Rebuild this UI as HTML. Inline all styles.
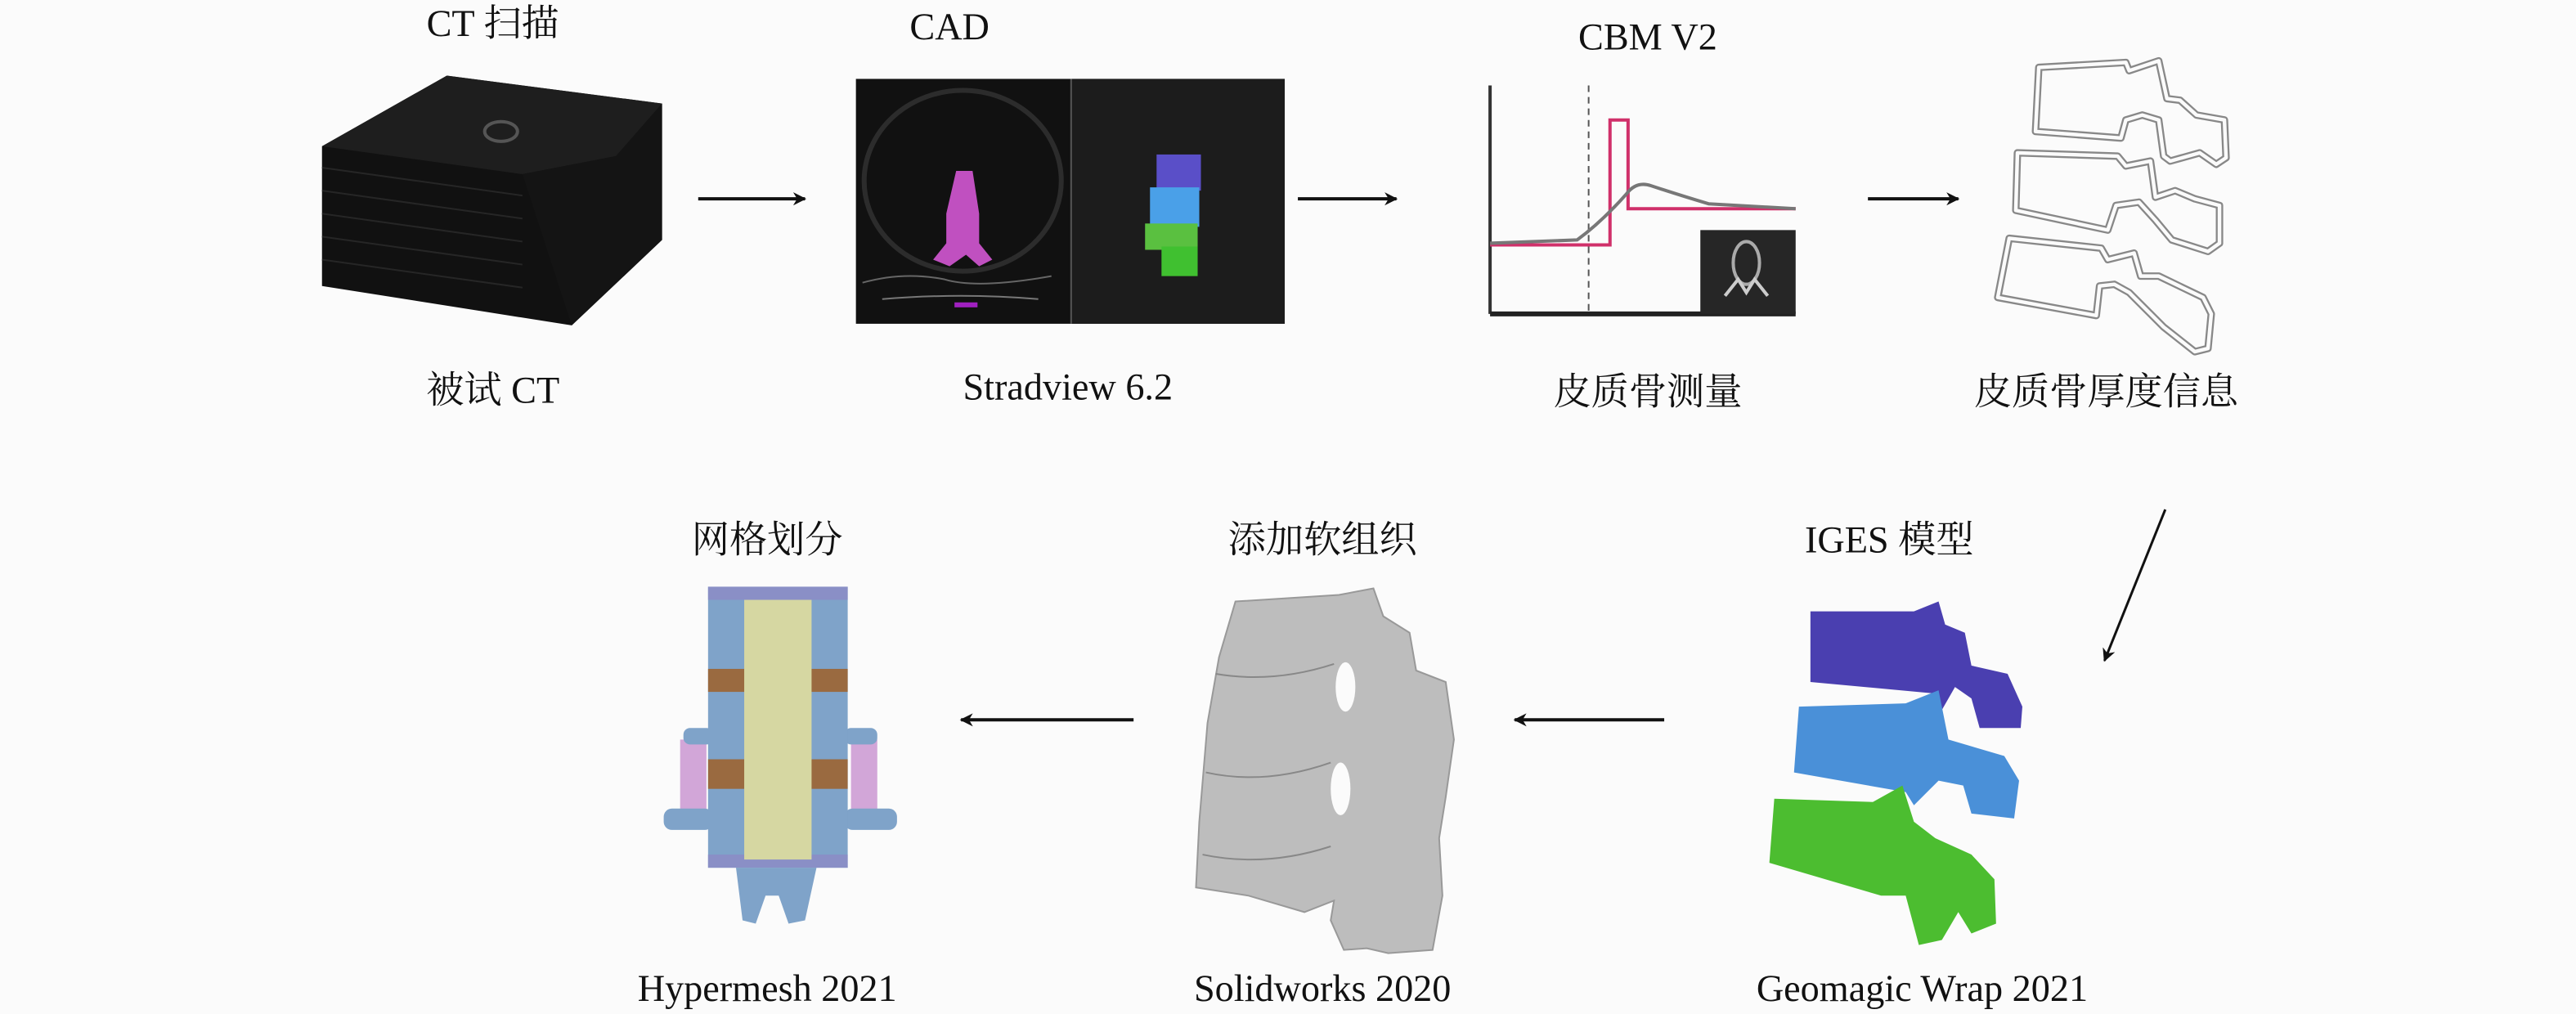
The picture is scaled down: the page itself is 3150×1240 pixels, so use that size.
<!DOCTYPE html>
<html><head><meta charset="utf-8"><style>
html,body{margin:0;padding:0;background:#fbfbfb;}
svg{display:block;}
text{font-family:"Liberation Serif","Noto Serif CJK SC",serif;font-size:23px;fill:#111;text-anchor:middle;}
</style></head><body>
<svg width="3150" height="1240" viewBox="0 0 1568 617" preserveAspectRatio="none" xmlns="http://www.w3.org/2000/svg">
<defs>
<marker id="ah" viewBox="0 0 10 10" refX="9" refY="5" markerWidth="8" markerHeight="8" orient="auto" markerUnits="userSpaceOnUse"><path d="M0,0 L10,5 L0,10 L3,5 z" fill="#111"/></marker>
</defs>
<rect width="1568" height="617" fill="#fbfbfb"/>

<!-- labels -->
<text x="300" y="22">CT 扫描</text>
<text x="300" y="245">被试 CT</text>
<text x="578" y="24">CAD</text>
<text x="650" y="243">Stradview 6.2</text>
<text x="1003" y="30">CBM V2</text>
<text x="1003" y="246">皮质骨测量</text>
<text x="1282" y="246">皮质骨厚度信息</text>
<text x="1150" y="336">IGES 模型</text>
<text x="1170" y="609">Geomagic Wrap 2021</text>
<text x="805" y="336">添加软组织</text>
<text x="805" y="609">Solidworks 2020</text>
<text x="467" y="336">网格划分</text>
<text x="467" y="609">Hypermesh 2021</text>

<!-- CT stack -->
<g>
<polygon points="272,46 403,63 403,146 348,198 196,174 196,89" fill="#111"/>
<polygon points="272,46 403,63 375,95 318,106 196,89" fill="#1e1e1e"/>
<polygon points="318,106 375,95 403,63 403,146 348,198" fill="#141414"/>
<g stroke="#262626" stroke-width="1">
<line x1="196" y1="102" x2="318" y2="119"/><line x1="196" y1="116" x2="318" y2="133"/>
<line x1="196" y1="130" x2="318" y2="147"/><line x1="196" y1="144" x2="318" y2="161"/>
<line x1="196" y1="158" x2="318" y2="175"/>
</g>
<ellipse cx="305" cy="80" rx="10" ry="6" fill="none" stroke="#555" stroke-width="2"/>
</g>

<!-- arrows -->
<line x1="425" y1="121" x2="490" y2="121" stroke="#111" stroke-width="2" marker-end="url(#ah)"/>
<line x1="790" y1="121" x2="850" y2="121" stroke="#111" stroke-width="2" marker-end="url(#ah)"/>
<line x1="1137" y1="121" x2="1192" y2="121" stroke="#111" stroke-width="2" marker-end="url(#ah)"/>
<line x1="1318" y1="310" x2="1281" y2="402" stroke="#111" stroke-width="1.5" marker-end="url(#ah)"/>
<line x1="1013" y1="438" x2="922" y2="438" stroke="#111" stroke-width="2" marker-end="url(#ah)"/>
<line x1="690" y1="438" x2="585" y2="438" stroke="#111" stroke-width="2" marker-end="url(#ah)"/>

<!-- CAD image -->
<rect x="521" y="48" width="261" height="149" fill="#111"/>
<rect x="652" y="48" width="130" height="149" fill="#1c1c1c"/>
<line x1="652" y1="48" x2="652" y2="197" stroke="#555" stroke-width="1"/>
<ellipse cx="586" cy="110" rx="60" ry="55" fill="none" stroke="#2c2c2c" stroke-width="3"/>
<path d="M525,172 Q550,165 575,170 Q595,176 640,168" stroke="#666" fill="none"/>
<path d="M537,182 Q585,178 632,182" stroke="#777" fill="none"/>
<rect x="581" y="184" width="14" height="3" fill="#a020c0"/>
<path d="M582,104 L592,104 L596,130 L596,148 L604,158 L596,162 L588,155 L578,162 L568,158 L576,148 L576,130 Z" fill="#c050c0"/>
<rect x="704" y="94" width="27" height="22" fill="#5a4fc8"/>
<rect x="700" y="114" width="30" height="24" fill="#4aa0e8"/>
<rect x="697" y="136" width="32" height="16" fill="#5ac040"/>
<rect x="707" y="150" width="22" height="18" fill="#40c030"/>

<!-- CBM chart -->
<line x1="907" y1="52" x2="907" y2="191" stroke="#333" stroke-width="2"/>
<line x1="907" y1="191" x2="1093" y2="191" stroke="#222" stroke-width="3"/>
<line x1="967" y1="52" x2="967" y2="191" stroke="#555" stroke-width="1" stroke-dasharray="4,3"/>
<path d="M907,149 L980,149 L980,73 L991,73 L991,127 L1093,127" fill="none" stroke="#d0306a" stroke-width="2"/>
<path d="M907,148 L960,146 Q975,135 990,118 Q996,110 1005,113 Q1020,118 1040,124 L1093,127" fill="none" stroke="#777" stroke-width="2"/>
<rect x="1035" y="140" width="58" height="51" fill="#262626"/>
<ellipse cx="1063" cy="160" rx="8" ry="13" fill="none" stroke="#aaa" stroke-width="2"/>
<path d="M1050,180 L1058,170 L1063,178 L1068,170 L1076,180" stroke="#ccc" fill="none" stroke-width="2"/>

<!-- bone outlines (double line) -->
<g fill="none" stroke-linejoin="round">
<g stroke="#888" stroke-width="4.5">
<path id="b1" d="M1241,41 L1294,38 L1296,43 L1314,37 L1319,60 L1327,61 L1337,70 L1354,73 L1355,96 L1349,100 L1339,93 L1321,98 L1317,95 L1314,73 L1304,70 L1294,73 L1291,84 L1239,80 Z"/>
<path id="b2" d="M1228,93 L1289,95 L1294,101 L1309,98 L1312,120 L1324,116 L1336,121 L1351,125 L1351,148 L1344,153 L1322,146 L1312,134 L1302,123 L1288,125 L1283,140 L1227,128 Z"/>
<path id="b3" d="M1223,145 L1279,151 L1283,158 L1299,154 L1303,168 L1314,168 L1341,181 L1346,191 L1344,212 L1336,214 L1317,199 L1309,191 L1296,178 L1287,173 L1278,174 L1276,192 L1216,181 Z"/>
</g>
<g stroke="#fbfbfb" stroke-width="2.2">
<use href="#b1"/><use href="#b2"/><use href="#b3"/>
</g>
</g>

<!-- colorful vertebrae (IGES) -->
<path d="M1102,372 L1165,372 L1180,366 L1184,380 L1196,385 L1200,405 L1222,410 L1231,430 L1230,443 L1205,443 L1200,425 L1190,418 L1182,432 L1178,422 L1102,415 Z" fill="#4a3fb0"/>
<path d="M1095,430 L1160,428 L1180,420 L1186,450 L1220,460 L1229,475 L1226,498 L1200,495 L1195,478 L1180,475 L1165,490 L1160,482 L1092,470 Z" fill="#4a90d8"/>
<path d="M1080,486 L1140,488 L1158,478 L1165,500 L1178,510 L1200,520 L1214,535 L1215,562 L1200,568 L1192,555 L1182,572 L1168,575 L1160,545 L1145,545 L1077,525 Z" fill="#4cbd30"/>

<!-- gray vertebrae -->
<path d="M752,366 L815,362 L836,358 L842,375 L858,385 L862,408 L880,415 L885,450 L880,485 L876,510 L878,545 L872,578 L845,580 L832,577 L818,578 L810,560 L812,548 L794,555 L760,545 L728,540 L730,500 L735,440 L742,400 Z" fill="#bdbdbd" stroke="#999"/>
<g fill="#fbfbfb"><ellipse cx="819" cy="418" rx="6" ry="15"/><ellipse cx="816" cy="480" rx="6" ry="16"/></g>
<g stroke="#888" fill="none"><path d="M740,410 Q775,416 812,404"/><path d="M734,470 Q770,478 810,464"/><path d="M732,520 Q770,528 810,515"/></g>

<!-- hypermesh model -->
<rect x="414" y="450" width="16" height="44" fill="#d2a6d8"/>
<rect x="518" y="450" width="16" height="44" fill="#d2a6d8"/>
<rect x="416" y="443" width="18" height="10" rx="4" fill="#7fa3c9"/>
<rect x="514" y="443" width="20" height="10" rx="4" fill="#7fa3c9"/>
<rect x="404" y="492" width="30" height="13" rx="5" fill="#7fa3c9"/>
<rect x="514" y="492" width="32" height="13" rx="5" fill="#7fa3c9"/>
<rect x="431" y="357" width="85" height="171" fill="#7fa3c9"/>
<rect x="431" y="357" width="85" height="8" fill="#8a8fc6"/>
<rect x="431" y="520" width="85" height="8" fill="#8a8fc6"/>
<rect x="431" y="407" width="85" height="14" fill="#9a6a40"/>
<rect x="431" y="462" width="85" height="18" fill="#9a6a40"/>
<rect x="453" y="365" width="41" height="158" fill="#d6d7a2"/>
<path d="M448,528 L452,560 L460,562 L466,545 L474,545 L480,562 L490,560 L497,528 Z" fill="#7fa3c9"/>
</svg>
</body></html>
